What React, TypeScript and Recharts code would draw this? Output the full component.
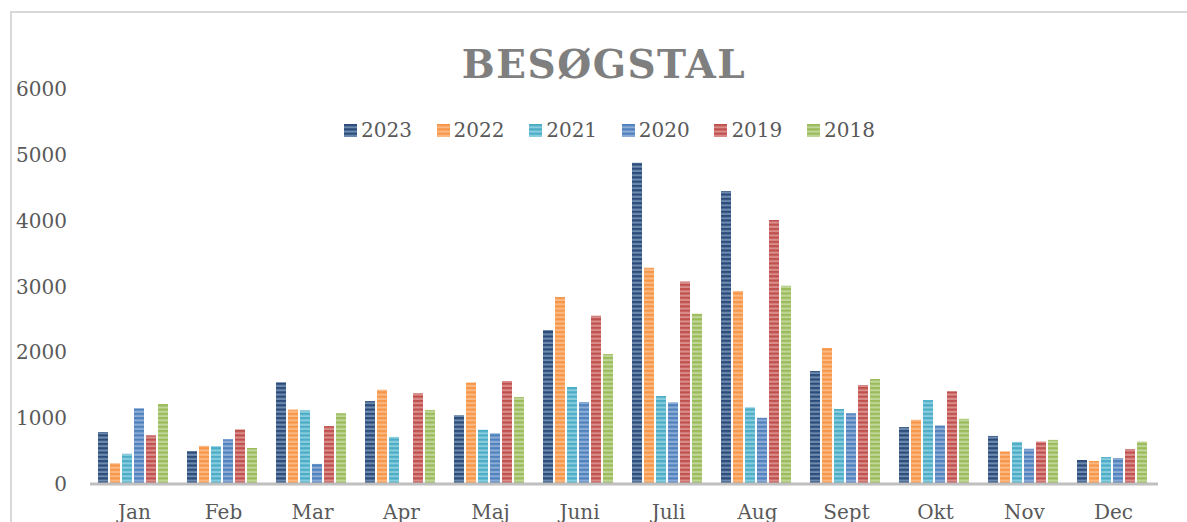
import React from "react";
import { BarChart, Bar, XAxis, YAxis } from "recharts";

const months = ["Jan", "Feb", "Mar", "Apr", "Maj", "Juni", "Juli", "Aug", "Sept", "Okt", "Nov", "Dec"];
const years = ["2023", "2022", "2021", "2020", "2019", "2018"];
const v2023 = [790, 500, 1545, 1260, 1045, 2340, 4880, 4450, 1715, 865, 730, 365];
const v2022 = [315, 580, 1130, 1430, 1540, 2840, 3285, 2930, 2065, 975, 495, 350];
const v2021 = [460, 575, 1120, 715, 825, 1475, 1335, 1165, 1140, 1275, 640, 410];
const v2020 = [1150, 680, 305, 0, 770, 1245, 1240, 1005, 1075, 890, 535, 395];
const v2019 = [740, 830, 880, 1380, 1565, 2555, 3075, 4010, 1505, 1410, 645, 530];
const v2018 = [1215, 545, 1075, 1125, 1320, 1975, 2585, 3010, 1595, 990, 670, 645];
const yTicks = [0, 1000, 2000, 3000, 4000, 5000, 6000];
const title = "BESØGSTAL";

const seriesValues = [v2023, v2022, v2021, v2020, v2019, v2018];
const baseColors = ["#2B4C7A", "#F79646", "#4BACC6", "#4F81BD", "#C0504D", "#9BBB59"];
const lightColors = ["#6F8AAF", "#FAB985", "#8ACDDE", "#8EADD6", "#D98E8B", "#C0D69A"];

const data = months.map((m, i) => {
  const row: Record<string, any> = { month: m };
  years.forEach((y, k) => {
    row[y] = seriesValues[k][i];
  });
  return row;
});

const FONT = "'DejaVu Serif', serif";

export default function App() {
  return (
    <div
      style={{
        position: "fixed",
        left: 0,
        top: 0,
        width: 1187,
        height: 522,
        overflow: "hidden",
        background: "#fff",
        fontFamily: FONT,
      }}
    >
      <div
        style={{
          position: "absolute",
          left: 10,
          top: 11,
          width: 1300,
          height: 600,
          borderLeft: "2px solid #d9d9d9",
          borderTop: "2px solid #d9d9d9",
        }}
      />
      <div
        style={{
          position: "absolute",
          left: 604,
          top: 45,
          transform: "translateX(-50%)",
          fontSize: 39,
          lineHeight: "39px",
          fontWeight: "bold",
          letterSpacing: 1.5,
          color: "#7f7f7f",
          whiteSpace: "nowrap",
        }}
      >
        {title}
      </div>
      <div
        style={{
          position: "absolute",
          left: 344,
          top: 120,
          display: "flex",
          alignItems: "center",
          gap: 24.7,
          fontSize: 20,
          lineHeight: "20px",
          color: "#595959",
          whiteSpace: "nowrap",
        }}
      >
        {years.map((y, k) => (
          <div key={y} style={{ display: "flex", alignItems: "center" }}>
            <svg width={13} height={13} style={{ marginRight: 4 }}>
              <rect x={0} y={0} width={13} height={13} fill={`url(#stripe${k})`} />
            </svg>
            <span>{y}</span>
          </div>
        ))}
      </div>
      <div style={{ position: "absolute", left: 0, top: 0 }}>
        <BarChart
          width={1187}
          height={540}
          data={data}
          margin={{ top: 89, right: 29, left: 0, bottom: 0 }}
          barCategoryGap="9%"
          barGap={2}
        >
          <defs>
            {baseColors.map((c, k) => (
              <pattern
                key={k}
                id={`stripe${k}`}
                patternUnits="userSpaceOnUse"
                width={4}
                height={4.3}
              >
                <rect x={0} y={0} width={4} height={4.3} fill={c} />
                <rect x={0} y={2.2} width={4} height={2.1} fill={lightColors[k]} />
              </pattern>
            ))}
          </defs>
          <XAxis
            dataKey="month"
            height={56}
            axisLine={{ stroke: "#bfbfbf", strokeWidth: 3 }}
            tickLine={false}
            tickSize={0}
            tickMargin={21}
            tick={{ fill: "#595959", fontSize: 20, fontFamily: FONT }}
            interval={0}
          />
          <YAxis
            width={90}
            domain={[0, 6000]}
            ticks={yTicks}
            axisLine={false}
            tickLine={false}
            tickSize={0}
            tickMargin={23}
            tick={{ fill: "#595959", fontSize: 20, fontFamily: FONT }}
          />
          {years.map((y, k) => (
            <Bar
              key={y}
              dataKey={y}
              fill={`url(#stripe${k})`}
              isAnimationActive={false}
            />
          ))}
        </BarChart>
      </div>
    </div>
  );
}
